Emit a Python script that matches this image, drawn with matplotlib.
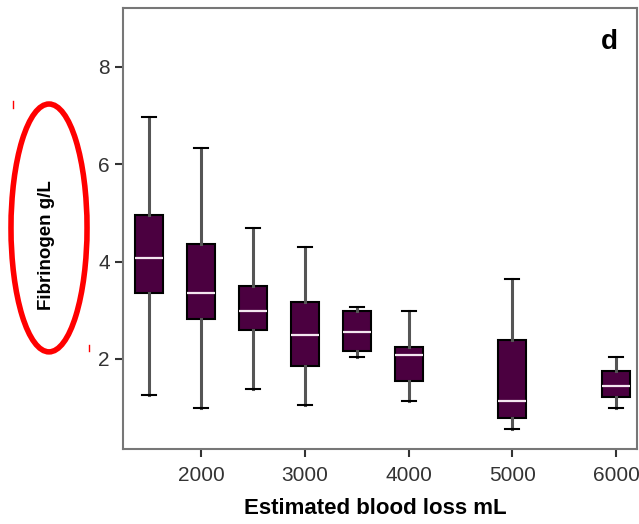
import matplotlib
matplotlib.use("Agg")
import matplotlib.pyplot as plt
from matplotlib.patches import Ellipse
from matplotlib.lines import Line2D

plt.rcParams['font.family'] = ['Liberation Sans', 'DejaVu Sans']

# blood loss groups (mL) and box stats (g/L)
positions = [1500, 2000, 2500, 3000, 3500, 4000, 5000, 6000]
whislo = [1.26, 0.99, 1.38, 1.05, 2.05, 1.14, 0.56, 0.99]
q1 = [3.36, 2.83, 2.60, 1.86, 2.17, 1.55, 0.78, 1.22]
med = [4.07, 3.36, 2.99, 2.49, 2.56, 2.08, 1.14, 1.44]
q3 = [4.96, 4.36, 3.49, 3.18, 2.99, 2.24, 2.38, 1.75]
whishi = [6.97, 6.33, 4.70, 4.31, 3.07, 2.98, 3.64, 2.05]

xticks = [2000, 3000, 4000, 5000, 6000]
yticks = [2, 4, 6, 8]

stats = []
for i in range(len(positions)):
    stats.append({"whislo": whislo[i], "q1": q1[i], "med": med[i],
                  "q3": q3[i], "whishi": whishi[i], "fliers": []})

fig = plt.figure(figsize=(6.39, 5.24), dpi=100)
ax = fig.add_axes([0.1925, 0.1431, 0.8045, 0.8416])

ax.bxp(stats, positions=positions, widths=270, patch_artist=True,
       showfliers=False, manage_ticks=False,
       boxprops=dict(facecolor="#4b0040", edgecolor="black", linewidth=1.5),
       medianprops=dict(color="#f4e6f0", linewidth=1.6),
       whiskerprops=dict(color="#555555", linewidth=2.2),
       capprops=dict(color="black", linewidth=1.5))

ax.set_xlim(1248, 6202)
ax.set_ylim(0.15, 9.21)
ax.set_xticks(xticks)
ax.set_yticks(yticks)
ax.tick_params(labelsize=15, colors="#333333", length=6, width=1.5)
ax.tick_params(axis="x", pad=6)
for s in ax.spines.values():
    s.set_color("#777777")
    s.set_linewidth(1.5)

ax.set_xlabel("Estimated blood loss mL", fontsize=16, fontweight="bold")
ax.xaxis.set_label_coords(0.49, -0.11)
ax.set_ylabel("Fibrinogen g/L", fontsize=13.5, fontweight="bold")
ax.yaxis.set_label_coords(-0.132, 0.463)
ax.text(0.947, 0.923, "d", transform=ax.transAxes, fontsize=20,
        fontweight="bold", ha="center", va="center")

# red annotation
fig.patches.append(Ellipse((0.0767, 0.565), 0.119, 0.473, transform=fig.transFigure,
                           fill=False, edgecolor="red", linewidth=4))
fig.lines.append(Line2D([13 / 639, 13 / 639], [1 - 101 / 524, 1 - 108 / 524],
                        transform=fig.transFigure, color="red", linewidth=1))
fig.lines.append(Line2D([89 / 639, 89 / 639], [1 - 345 / 524, 1 - 351 / 524],
                        transform=fig.transFigure, color="red", linewidth=1))

fig.savefig("out.png", dpi=100)
